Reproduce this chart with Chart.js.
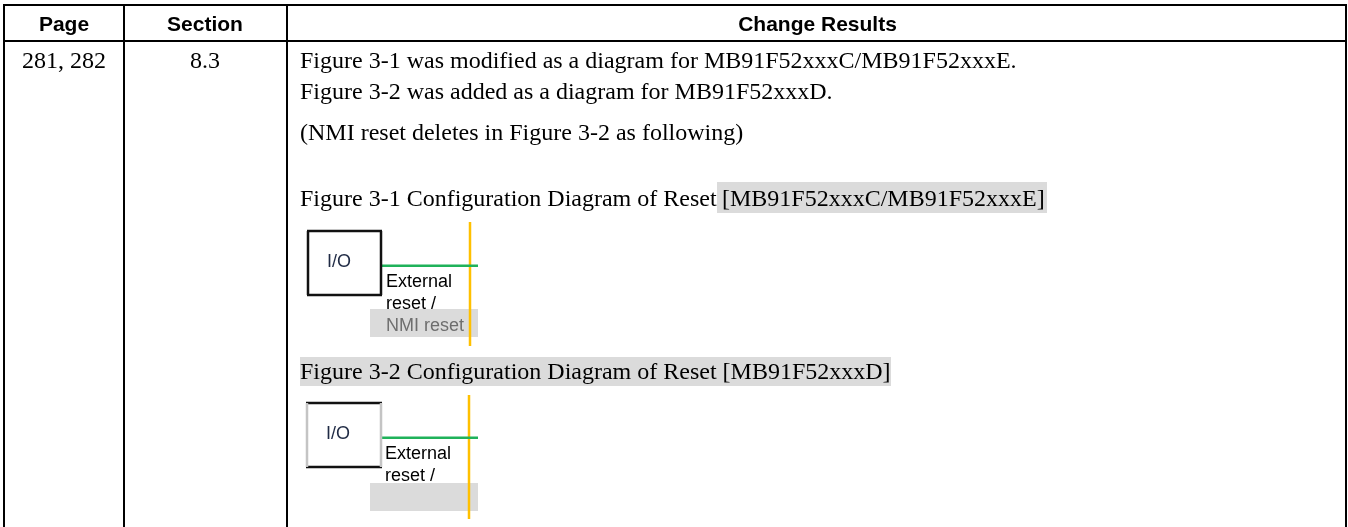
<!DOCTYPE html>
<html>
<head>
<meta charset="utf-8">
<title>Change Results</title>
<script src="https://cdn.jsdelivr.net/npm/chart.js@4/dist/chart.umd.min.js"></script>
<style>
    html, body { margin: 0; padding: 0; background: #fff; overflow: hidden; }
    canvas { display: block; }
</style>
</head>
<body>
<canvas id="myChart" width="1348" height="527"></canvas>
<script>
// table rules
const columnEdges = [4, 124, 287, 1346];
const headerEdges = [5, 41];
const tableBottom = 527;

// highlighted areas: [x0, x1, y0, y1]
const highlightBoxes = [
    [717, 1047, 182, 213],
    [370, 478, 309, 337],
    [300, 891, 357, 386],
    [370, 478, 483, 511]
];

// the two small reset diagrams
const ioBoxes = [
    [308, 381, 231, 295],
    [307, 381, 403, 467]
];
const greenWires = [
    [381, 478, 265.7],
    [381, 478, 437.7]
];
const orangeBuses = [
    [470, 222, 346],
    [469, 395, 519]
];

// [text, x, baseline y]
const headerTexts = [
    ['Page', 64, 31],
    ['Section', 205, 31],
    ['Change Results', 817.5, 31]
];
const centerCellTexts = [
    ['281, 282', 64, 68],
    ['8.3', 205, 68]
];
const bodyTexts = [
    ['Figure 3-1 was modified as a diagram for MB91F52xxxC/MB91F52xxxE.', 300, 68],
    ['Figure 3-2 was added as a diagram for MB91F52xxxD.', 300, 99],
    ['(NMI reset deletes in Figure 3-2 as following)', 300, 140],
    ['Figure 3-1 Configuration Diagram of Reset', 300, 206],
    ['[MB91F52xxxC/MB91F52xxxE]', 722, 206],
    ['Figure 3-2 Configuration Diagram of Reset [MB91F52xxxD]', 300, 379]
];
const diagramTexts = [
    ['I/O', 327, 267, '#1f2a44'],
    ['External', 386, 287, '#000'],
    ['reset /', 386, 309, '#000'],
    ['NMI reset', 386, 331, '#6e6e6e'],
    ['I/O', 326, 439, '#1f2a44'],
    ['External', 385, 459, '#000'],
    ['reset /', 385, 481, '#000']
];

function segment(x0, y0, x1, y1, color, width) {
    return {
        data: [{ x: x0, y: y0 }, { x: x1, y: y1 }],
        showLine: true,
        fill: false,
        borderColor: color,
        borderWidth: width,
        borderCapStyle: 'butt',
        pointRadius: 0
    };
}

const datasets = [];

// grid
columnEdges.forEach(function (x) {
    datasets.push(segment(x, headerEdges[0] - 1, x, tableBottom, '#000', 2));
});
headerEdges.forEach(function (y) {
    datasets.push(segment(columnEdges[0] - 1, y, columnEdges[3] + 1, y, '#000', 2));
});

// diagrams, the sides of the second box are washed out in the source
ioBoxes.forEach(function (b, i) {
    const sideColor = i === 0 ? '#111' : '#c4c4c4';
    datasets.push(segment(b[0], b[2], b[0], b[3], sideColor, 2.5));
    datasets.push(segment(b[1], b[2], b[1], b[3], sideColor, 2.5));
    datasets.push(segment(b[0] - 1, b[2], b[1] + 1, b[2], '#111', 2.5));
    datasets.push(segment(b[0] - 1, b[3], b[1] + 1, b[3], '#111', 2.5));
});
greenWires.forEach(function (w) {
    datasets.push(segment(w[0], w[2], w[1], w[2], '#1fb25a', 2.6));
});
orangeBuses.forEach(function (o) {
    datasets.push(segment(o[0], o[1], o[0], o[2], '#ffc000', 2.5));
});

// highlights go last so the bus shows through them
highlightBoxes.forEach(function (b) {
    const mid = (b[2] + b[3]) / 2;
    datasets.push(segment(b[0], mid, b[1], mid, 'rgba(0,0,0,0.14)', b[3] - b[2]));
});

const tableText = {
    id: 'tableText',
    afterDatasetsDraw(chart) {
        const c = chart.ctx;
        const xs = chart.scales.x;
        const ys = chart.scales.y;
        c.save();
        c.textBaseline = 'alphabetic';
        c.fillStyle = '#000';

        c.font = 'bold 21px "Liberation Sans"';
        c.textAlign = 'center';
        headerTexts.forEach(function (t) {
            c.fillText(t[0], xs.getPixelForValue(t[1]), ys.getPixelForValue(t[2]));
        });

        c.font = '24px "Liberation Serif"';
        centerCellTexts.forEach(function (t) {
            c.fillText(t[0], xs.getPixelForValue(t[1]), ys.getPixelForValue(t[2]));
        });

        c.textAlign = 'left';
        bodyTexts.forEach(function (t) {
            c.fillText(t[0], xs.getPixelForValue(t[1]), ys.getPixelForValue(t[2]));
        });

        c.font = '18px "Liberation Sans"';
        diagramTexts.forEach(function (t) {
            c.fillStyle = t[3];
            c.fillText(t[0], xs.getPixelForValue(t[1]), ys.getPixelForValue(t[2]));
        });
        c.restore();
    }
};

new Chart(document.getElementById('myChart'), {
    type: 'scatter',
    data: { datasets: datasets },
    options: {
        responsive: false,
        animation: false,
        layout: { padding: 0 },
        plugins: { legend: { display: false }, tooltip: { enabled: false } },
        scales: {
            x: { type: 'linear', min: 0, max: 1348, display: false },
            y: { type: 'linear', min: 0, max: 527, reverse: true, display: false }
        }
    },
    plugins: [tableText]
});
</script>
</body>
</html>
